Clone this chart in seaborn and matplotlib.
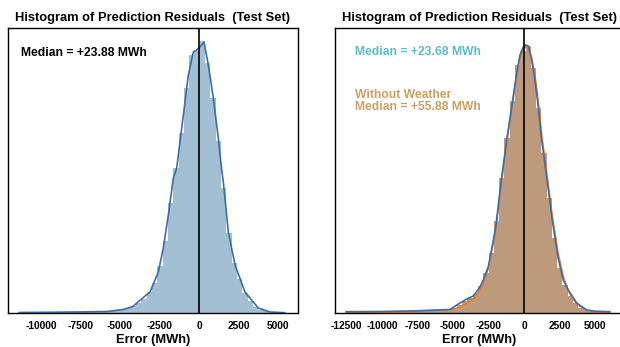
import numpy as np
import pandas as pd
import matplotlib
matplotlib.use("Agg")
import matplotlib.pyplot as plt
import seaborn as sns

# ---------------- data ----------------
# Left panel: residual histogram (with weather), 50 bins
left_bin_start = -11400.0
left_bin_width = 336.8
left_hist = [1, 1, 1, 1, 1, 1, 1, 1, 1, 1,
             1, 1.5, 1.5, 1.5, 2, 2, 2, 2.5, 3, 4,
             5, 7, 10, 14, 21, 30, 47, 72, 110, 145,
             180, 225, 258, 262, 272, 250, 215, 172, 125, 80,
             50, 34, 20, 12, 6, 3, 2, 1, 0.5, 0.5]
left_kde_x = [-11400, -9000, -7000, -5800, -4800, -4180, -3940, -3100, -2575, -2260,
              -1940, -1625, -1410, -990, -675, -360, -145, 63, 316, 590,
              905, 1220, 1435, 1540, 1855, 2280, 2910, 3750, 4500, 5440]
left_kde_y = [0.5, 0.8, 1.2, 1.5, 3.5, 6.5, 10, 21, 41, 65,
              98, 135, 145, 198, 238, 261, 263, 266, 271, 248,
              215, 175, 143, 131, 81, 48, 21, 5, 1, 0.3]

# Right panel: histogram (with / without weather overlay), 50 bins
right_bin_start = -12535.0
right_bin_width = 371.8
right_hist = [1.3, 1.3, 1.3, 1.3, 1.3, 1.3, 1.5, 1.5, 1.5, 1.5,
              2, 2, 2, 2, 2.5, 2.5, 3, 3, 3, 3,
              5, 8, 12, 15, 19, 27, 40, 60, 92, 135,
              175, 212, 248, 262, 267, 245, 205, 160, 115, 75,
              45, 28, 17, 10, 5, 3, 2, 1.5, 1.2, 1]
kde_w_x = [-12535, -10000, -8000, -6000, -5211, -4739, -4035, -3570, -3099, -2866,
           -2500, -2000, -1570, -1218, -866, -514, -282, -49, 141, 303,
           542, 775, 1007, 1246, 1599, 2000, 2400, 2768, 3120, 3711,
           4415, 5000, 6056]
kde_w_y = [1.3, 1.5, 2, 3, 3.5, 8, 14, 17, 26, 33,
           47, 85, 136, 173, 206, 240, 258, 266, 268, 267,
           253, 233, 206, 173, 136, 92, 55, 33, 23, 10,
           3, 1.8, 1.3]
kde_nw_x = [-12535, -10000, -8000, -6500, -6000, -5200, -4700, -4000, -3500, -3000,
            -2500, -2000, -1570, -1218, -866, -514, -282, -49, 141, 303,
            542, 775, 1007, 1246, 1599, 2000, 2400, 2768, 3120, 3711,
            4415, 5000, 6056]
kde_nw_y = [0.8, 1, 1.5, 2.5, 3, 3, 5, 10, 15, 25,
            45, 82, 132, 170, 205, 238, 255, 264, 266, 265,
            255, 237, 211, 178, 140, 96, 60, 36, 22, 9,
            2.5, 1.2, 0.8]

title = "Histogram of Prediction Residuals  (Test Set)"
xlabel = "Error (MWh)"
left_ticks = [-10000, -7500, -5000, -2500, 0, 2500, 5000]
right_ticks = [-12500, -10000, -7500, -5000, -2500, 0, 2500, 5000]
median_left = "Median = +23.88 MWh"
median_w = "Median = +23.68 MWh"
median_nw = "Without Weather\nMedian = +55.88 MWh"

# ---------------- style ----------------
sns.set_style("white")
plt.rcParams["font.family"] = ["Liberation Sans", "DejaVu Sans"]
plt.rcParams["text.color"] = "black"
plt.rcParams["xtick.color"] = "black"
plt.rcParams["axes.labelcolor"] = "black"

fig = plt.figure(figsize=(6.2, 3.47), dpi=100)
axL = fig.add_axes([8 / 620, 34 / 347, 290 / 620, 285 / 347])
axR = fig.add_axes([335 / 620, 34 / 347, 288 / 620, 285 / 347])


def hist_df(start, width, heights):
    n = len(heights)
    edges = start + width * np.arange(n + 1)
    centers = (edges[:-1] + edges[1:]) / 2
    return pd.DataFrame({"x": centers, "h": heights}), [float(e) for e in edges]


dL, eL = hist_df(left_bin_start, left_bin_width, left_hist)
sns.histplot(data=dL, x="x", weights="h", bins=eL, ax=axL,
             color="#a3bfd3", alpha=1, linewidth=0, edgecolor="none")
sns.lineplot(x=left_kde_x, y=left_kde_y, ax=axL, color="#3b6ea8", lw=1.2)

dR, eR = hist_df(right_bin_start, right_bin_width, right_hist)
sns.histplot(data=dR, x="x", weights="h", bins=eR, ax=axR,
             color="#bd9a7b", alpha=1, linewidth=0, edgecolor="none")
sns.lineplot(x=kde_nw_x, y=kde_nw_y, ax=axR, color="#ef7b2a", lw=1.2)
sns.lineplot(x=kde_w_x, y=kde_w_y, ax=axR, color="#3b6ea8", lw=1.2)

for ax, ticks, xl in [(axL, left_ticks, (-12090, 6266)),
                      (axR, right_ticks, (-13310, 6972))]:
    ax.axvline(0, color="black", lw=1.2)
    ax.set_xlim(*xl)
    ax.set_ylim(0, 285)
    ax.set_xticks(ticks)
    ax.set_xticklabels([str(t) for t in ticks], fontsize=7.4, fontweight="bold",
                       color="black")
    ax.set_yticks([])
    ax.set_ylabel("")
    ax.tick_params(axis="x", length=0, pad=5.5)
    ax.set_xlabel(xlabel, fontsize=9.3, fontweight="bold", labelpad=2.5,
                  color="black")
    ax.set_title(title, fontsize=9.3, fontweight="bold", pad=5, color="black")
    for s in ax.spines.values():
        s.set_color("black")
        s.set_linewidth(1.0)
        s.set_visible(True)

axL.text(0.044, 0.913, median_left, transform=axL.transAxes, fontsize=8.7,
         fontweight="bold", color="black", va="center", ha="left")
axR.text(0.069, 0.917, median_w, transform=axR.transAxes, fontsize=8.7,
         fontweight="bold", color="#5dbcc9", va="center", ha="left")
axR.text(0.069, 0.745, median_nw, transform=axR.transAxes, fontsize=8.7,
         fontweight="bold", color="#c9a063", va="center", ha="left",
         linespacing=1.0)

fig.savefig("out.png", dpi=100)
